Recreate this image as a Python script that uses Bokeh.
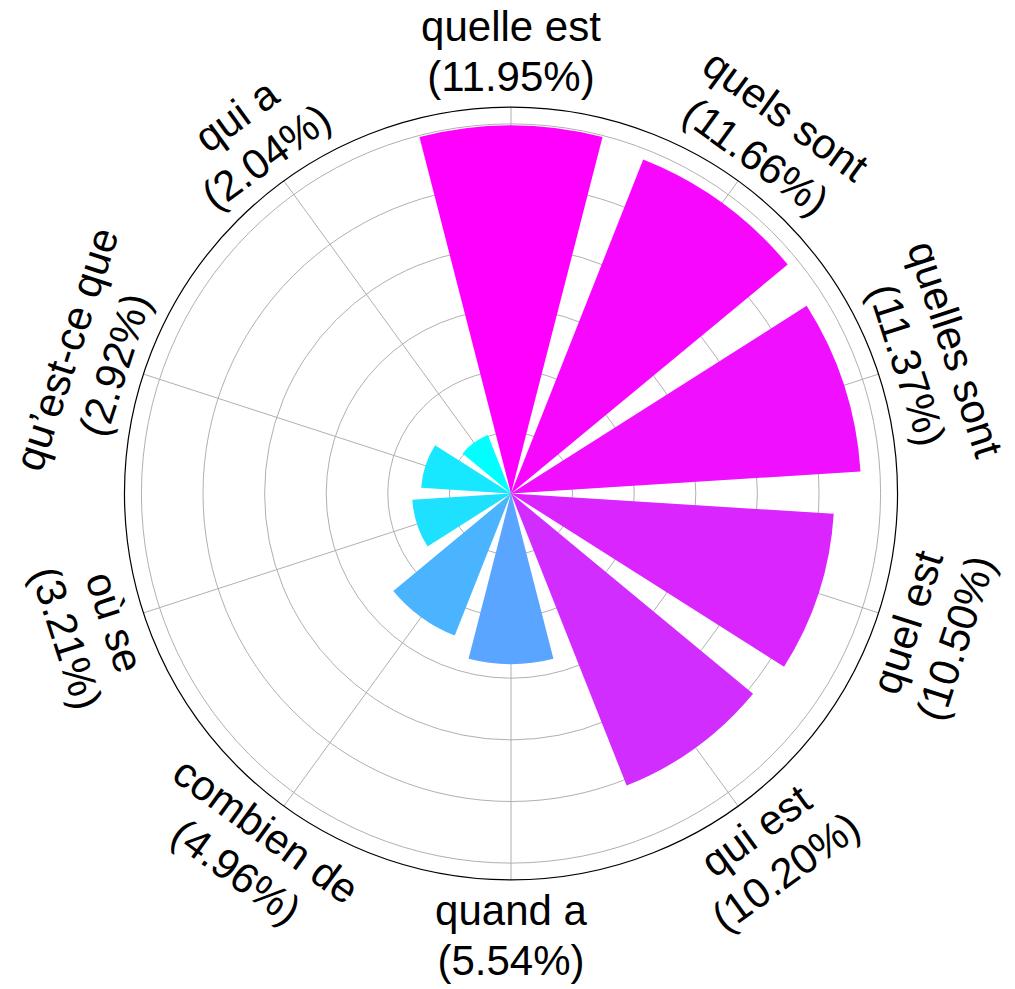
import numpy as np
from bokeh.plotting import figure
from bokeh.embed import file_html
from bokeh.resources import INLINE
from bokeh.core.properties import value

categories = ["quelle est", "quels sont", "quelles sont", "quel est", "qui est",
              "quand a", "combien de", "où se", "qu’est-ce que", "qui a"]
percents = [11.95, 11.66, 11.37, 10.50, 10.20, 5.54, 4.96, 3.21, 2.92, 2.04]
ring_ticks = [2, 4, 6, 8, 10, 12]
r_max = 12.55

W, H = 1015, 989
S = 30.8            # pixels per data unit
CX, CY = 510.5, 493  # center in pixels

p = figure(width=W, height=H, output_backend="svg", toolbar_location=None,
           x_range=(-CX / S, (W - CX) / S), y_range=(-(H - CY) / S, CY / S),
           min_border=0, match_aspect=False)
p.axis.visible = False
p.grid.visible = False
p.outline_line_color = None
p.background_fill_color = "white"

n = len(categories)
step = 360.0 / n
theta = np.array([i * step for i in range(n)])      # clockwise from north
phi = 90.0 - theta                                   # math angle
width = step * 0.8

# cool colormap
vmin, vmax = min(percents), max(percents)
colors = []
for v in percents:
    t = (v - vmin) / (vmax - vmin)
    colors.append("#%02x%02x%02x" % (int(round(255 * t)), int(round(255 * (1 - t))), 255))

# grid rings and spokes
p.arc(x=[0] * len(ring_ticks), y=[0] * len(ring_ticks), radius=ring_ticks,
      start_angle=0, end_angle=2 * np.pi, line_color="#b0b0b0", line_width=1)
rad = np.deg2rad(phi)
p.segment(x0=[0] * n, y0=[0] * n, x1=list(r_max * np.cos(rad)), y1=list(r_max * np.sin(rad)),
          line_color="#b0b0b0", line_width=1)

# bars
p.wedge(x=[0] * n, y=[0] * n, radius=percents,
        start_angle=list(np.deg2rad(phi - width / 2)), end_angle=list(np.deg2rad(phi + width / 2)),
        fill_color=colors, line_color=None)

# outer spine
p.arc(x=[0], y=[0], radius=[r_max], start_angle=0, end_angle=2 * np.pi,
      line_color="black", line_width=1.2)

# labels
labels = ["%s\n(%.2f%%)" % (c, v) for c, v in zip(categories, percents)]
rots = []
for t in theta:
    r = (-t) % 360
    if 90 < r < 270:
        r -= 180
    elif r >= 270:
        r -= 360
    rots.append(float(np.deg2rad(r)))
lr = 14.35
p.text(x=list(lr * np.cos(rad)), y=list(lr * np.sin(rad)), text=labels,
       angle=rots, text_align="center", text_baseline="middle",
       text_font=value("Liberation Sans"), text_font_size="42px", text_color="black",
       text_line_height=1.08)

open("out.html", "w").write(file_html(p, INLINE))
